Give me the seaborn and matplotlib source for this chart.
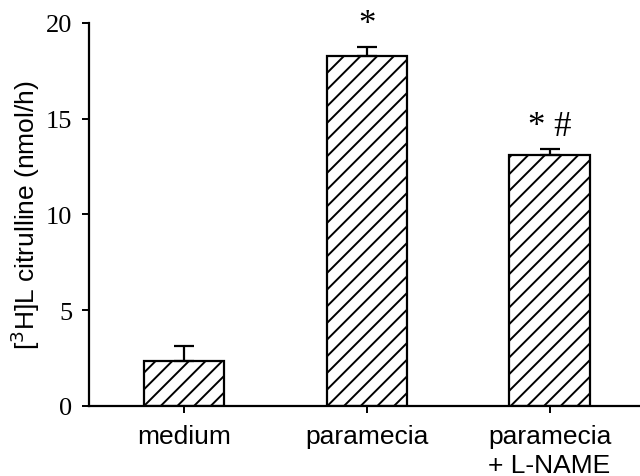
import matplotlib
matplotlib.use("Agg")
import matplotlib.pyplot as plt
import seaborn as sns
import pandas as pd

# Data
groups = ["medium", "paramecia", "paramecia\n+ L-NAME"]
citrulline = [2.35, 18.28, 13.1]
sem = [0.78, 0.47, 0.32]
markers = ["", "*", "* #"]

sns.set_theme(style="ticks")
plt.rcParams["hatch.linewidth"] = 1.4
plt.rcParams["hatch.color"] = "black"

df = pd.DataFrame({"group": groups, "value": citrulline})

fig = plt.figure(figsize=(6.4, 4.77), dpi=100)
ax = fig.add_axes([0.139, 0.147, 0.861, 0.803])

sns.barplot(data=df, x="group", y="value", ax=ax, color="white",
            edgecolor="black", linewidth=1.6, width=0.44, errorbar=None)
for p in ax.patches:
    p.set_hatch("//")
    p.set_facecolor("white")
    p.set_edgecolor("black")

xs = range(len(groups))
ax.errorbar(xs, citrulline, yerr=[[0] * len(sem), sem], fmt="none",
            ecolor="black", elinewidth=1.6, capsize=7, capthick=1.6, zorder=1)

for x, v, e, m in zip(xs, citrulline, sem, markers):
    if m:
        ax.text(x, v + e + 0.7, m, ha="center", va="baseline",
                family="Liberation Serif", fontsize=25, color="black")

ax.set_ylim(0, 20)
ax.set_xlim(-0.52, 2.495)
ax.set_yticks([0, 5, 10, 15, 20])
ax.set_xlabel("")
ax.set_ylabel(r"[$^{3}$H]L citrulline (nmol/h)", family="Liberation Sans",
              fontsize=19, color="black")
ax.yaxis.set_label_coords(-0.085, 0.5)

for lbl in ax.get_yticklabels():
    lbl.set_family("Liberation Serif")
    lbl.set_fontsize(19)
for lbl in ax.get_xticklabels():
    lbl.set_family("Liberation Sans")
    lbl.set_fontsize(19)
    lbl.set_linespacing(1.25)

ax.tick_params(axis="both", direction="out", length=5, width=1.4, colors="black")
ax.tick_params(axis="x", pad=8)
ax.tick_params(axis="y", pad=7)
ax.spines["right"].set_visible(False)
ax.spines["top"].set_visible(False)
for s in ("left", "bottom"):
    ax.spines[s].set_linewidth(1.6)
    ax.spines[s].set_color("black")

fig.savefig("out.png", dpi=100)
